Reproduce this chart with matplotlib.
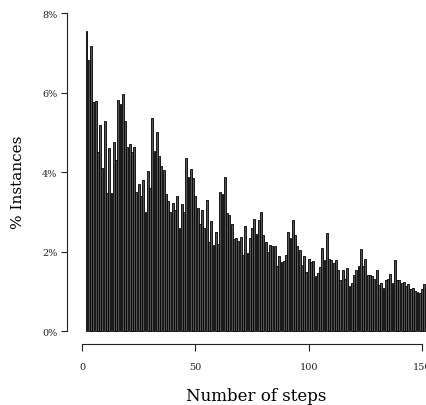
import matplotlib
matplotlib.use("Agg")
import matplotlib.pyplot as plt

# Share of instances (%) for each number of steps
steps = list(range(2, 152))
pct = [
    7.54, 6.82, 7.16, 5.77, 5.79, 4.50, 5.17, 4.11, 5.29, 3.46,
    4.60, 3.46, 4.76, 4.30, 5.80, 5.70, 5.95, 5.28, 4.64, 4.71,
    4.50, 4.62, 3.50, 3.70, 3.40, 3.80, 3.00, 4.02, 3.60, 5.35,
    4.54, 5.00, 4.40, 4.15, 4.05, 3.45, 3.27, 3.00, 3.23, 3.05,
    3.40, 2.60, 3.20, 3.00, 4.35, 3.87, 4.07, 3.85, 3.40, 3.09,
    2.70, 3.05, 2.58, 3.30, 2.25, 2.77, 2.16, 2.48, 2.20, 3.50,
    3.45, 3.87, 2.96, 2.93, 2.68, 2.31, 2.35, 2.27, 2.37, 1.90,
    2.63, 1.96, 2.35, 2.60, 2.82, 2.45, 2.78, 2.99, 2.42, 2.25,
    2.00, 2.16, 2.13, 2.13, 1.64, 1.88, 1.73, 1.75, 1.90, 2.48,
    2.33, 2.79, 2.42, 2.13, 2.04, 1.66, 1.88, 1.48, 1.81, 1.73,
    1.76, 1.38, 1.46, 1.60, 2.10, 1.79, 2.47, 1.81, 1.79, 1.71,
    1.78, 1.54, 1.29, 1.54, 1.31, 1.58, 1.13, 1.22, 1.40, 1.54,
    1.64, 2.07, 1.63, 1.81, 1.42, 1.42, 1.38, 1.31, 1.54, 1.16,
    1.20, 1.09, 1.28, 1.30, 1.44, 1.20, 1.78, 1.28, 1.29, 1.21,
    1.24, 1.12, 1.19, 1.06, 1.09, 1.01, 0.99, 0.96, 1.05, 1.17,
]
yticks = [0, 2, 4, 6, 8]
ytick_labels = ["0%", "2%", "4%", "6%", "8%"]
xticks = [0, 50, 100, 150]

plt.rcParams["font.family"] = "DejaVu Serif"

W, H = 427, 406
fig = plt.figure(figsize=(W / 100, H / 100), dpi=100)
# axes box in pixels: left 67, right 427, top 14, bottom 345
ax = fig.add_axes([67 / W, (H - 345) / H, 360 / W, 331 / H])

ax.bar(steps, pct, width=0.82, color="#555555", edgecolor="black", linewidth=0.6)

ax.set_xlim(-6.62, 152.2)
ax.set_ylim(-0.327, 8)

for side in ["top", "right"]:
    ax.spines[side].set_visible(False)
ax.spines["left"].set_bounds(0, 8)
ax.spines["bottom"].set_bounds(0, 150)
for side in ["left", "bottom"]:
    ax.spines[side].set_linewidth(0.8)
    ax.spines[side].set_color("#222222")

ax.set_yticks(yticks)
ax.set_yticklabels(ytick_labels)
ax.set_xticks(xticks)
ax.tick_params(axis="y", direction="out", length=4, width=0.8, pad=3, labelsize=7, colors="#222222")
ax.tick_params(axis="x", direction="out", length=5, width=0.8, pad=8, labelsize=7, colors="#222222")

fig.text(256 / W, 1 - 397 / H, "Number of steps", ha="center", va="center", fontsize=12)
fig.text(18 / W, 1 - 182 / H, "% Instances", ha="center", va="center", rotation=90, fontsize=11)

plt.savefig("out.png", dpi=100)
